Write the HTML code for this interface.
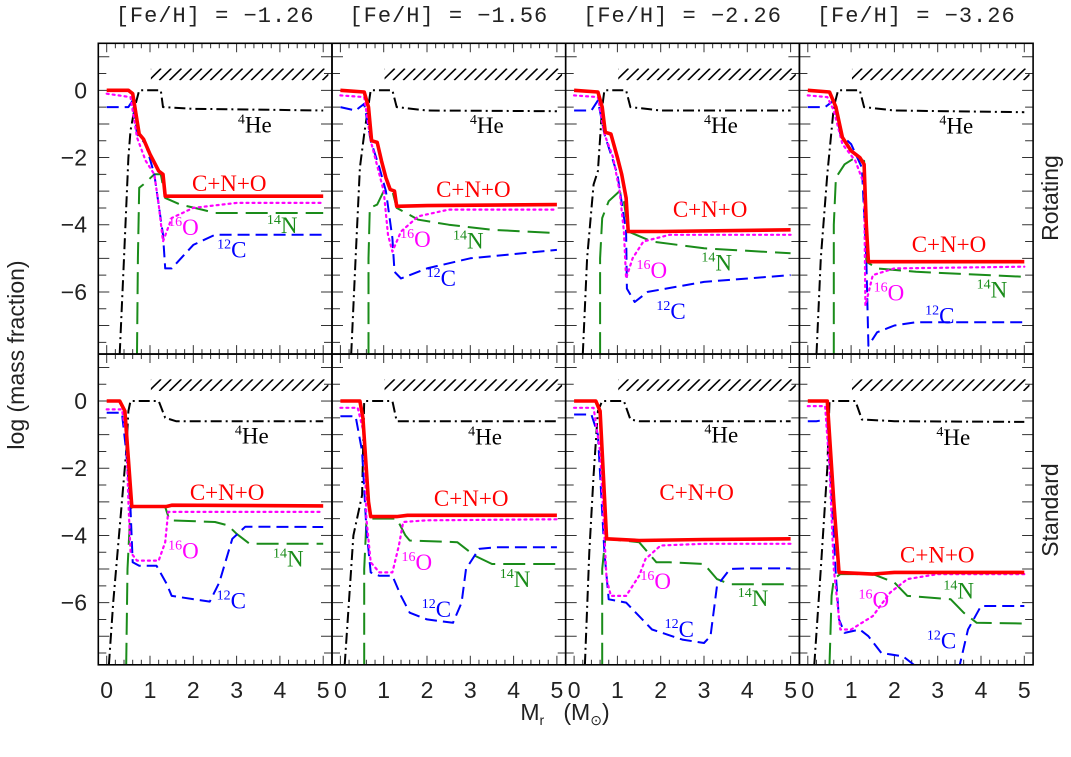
<!DOCTYPE html>
<html><head><meta charset="utf-8"><style>
html,body{margin:0;padding:0;background:#fff;}
svg{display:block;}
text{font-family:"Liberation Serif",serif;}
.ax{font-family:"Liberation Sans",sans-serif;fill:#222;}
.mono{font-family:"Liberation Mono",monospace;fill:#222;}
</style></head><body>
<svg id="chart" width="1071" height="757" viewBox="0 0 1071 757" xmlns="http://www.w3.org/2000/svg">
<g id="g"></g>
</svg>
<script>
const metallicities = ["[Fe/H] = \u22121.26","[Fe/H] = \u22121.56","[Fe/H] = \u22122.26","[Fe/H] = \u22123.26"];
const rowNames = ["Rotating","Standard"];
const xTicks = [0,1,2,3,4,5];
const yTicks = [0,-2,-4,-6];
const yTickLabels = ["0","\u22122","\u22124","\u22126"];

// Rotating row
const rot1_cno=[[0,0],[0.5,0],[0.6,-0.1],[0.75,-1.3],[0.85,-1.45],[1.0,-1.9],[1.2,-2.4],[1.3,-2.5],[1.35,-3.15],[5,-3.15]];
const rot1_o=[[0,-0.1],[0.55,-0.2],[0.7,-1.4],[0.9,-2.1],[1.1,-2.5],[1.2,-3.4],[1.3,-4.5],[1.5,-3.8],[2,-3.5],[3,-3.35],[5,-3.35]];
const rot1_c=[[0,-0.5],[0.5,-0.5],[0.6,-0.3],[0.7,-1.3],[0.9,-1.6],[1.1,-2.5],[1.3,-4.3],[1.35,-5.3],[1.5,-5.3],[2,-4.6],[2.5,-4.3],[5,-4.3]];
const rot1_n=[[0.7,-7.85],[0.72,-5],[0.75,-2.9],[0.85,-2.8],[1.1,-2.5],[1.25,-2.5],[1.35,-3.2],[1.7,-3.4],[2.2,-3.55],[2.5,-3.65],[5,-3.65]];
const rot1_he=[[0.3,-7.85],[0.4,-5],[0.5,-2],[0.55,-1.2],[0.65,-0.5],[0.75,0],[1.25,0],[1.3,-0.5],[2,-0.55],[5,-0.6]];

const rot2_cno=[[0,0],[0.55,-0.05],[0.65,-0.5],[0.72,-1.5],[0.85,-1.55],[0.95,-2.1],[1.05,-2.6],[1.15,-2.95],[1.25,-3.0],[1.3,-3.45],[2,-3.43],[5,-3.4]];
const rot2_o=[[0,-0.15],[0.55,-0.2],[0.7,-1.5],[0.9,-2.5],[1.0,-3.0],[1.1,-4.3],[1.2,-4.8],[1.4,-4.2],[1.8,-3.75],[2.5,-3.55],[5,-3.55]];
const rot2_c=[[0,-0.5],[0.35,-0.6],[0.55,-0.4],[0.7,-1.5],[0.9,-2.3],[1.05,-3.0],[1.2,-4.4],[1.25,-5.4],[1.4,-5.6],[2,-5.3],[3,-5.0],[5,-4.75]];
const rot2_n=[[0.65,-7.85],[0.65,-5],[0.68,-3.5],[0.85,-3.4],[1.0,-3.0],[1.2,-3.0],[1.3,-3.5],[1.8,-3.85],[2.5,-4.0],[3.5,-4.15],[5,-4.25]];
const rot2_he=[[0.25,-7.85],[0.35,-5],[0.45,-2.3],[0.55,-1.3],[0.7,0],[1.2,0],[1.3,-0.5],[2,-0.6],[5,-0.62]];

const rot3_cno=[[0,0],[0.55,-0.05],[0.65,-0.5],[0.72,-1.25],[0.85,-1.3],[1.0,-2.0],[1.1,-2.5],[1.2,-3.2],[1.25,-4.2],[2,-4.2],[5,-4.15]];
const rot3_o=[[0,-0.15],[0.55,-0.2],[0.7,-1.3],[0.9,-2.0],[1.05,-3.0],[1.15,-4.2],[1.2,-5.6],[1.35,-5.0],[1.6,-4.5],[2.2,-4.3],[5,-4.3]];
const rot3_c=[[0,-0.6],[0.4,-0.6],[0.55,-0.3],[0.7,-1.3],[1.0,-2.5],[1.2,-4.2],[1.22,-5.9],[1.4,-6.3],[1.7,-6.0],[3,-5.7],[5,-5.5]];
const rot3_n=[[0.6,-7.85],[0.6,-5],[0.65,-3.8],[0.8,-3.3],[1.05,-3.0],[1.15,-3.3],[1.25,-4.2],[1.8,-4.5],[3,-4.7],[5,-4.85]];
const rot3_he=[[0.2,-7.85],[0.3,-5],[0.45,-2.8],[0.55,-2.4],[0.65,-0.5],[0.7,0],[1.2,0],[1.3,-0.5],[2,-0.6],[5,-0.6]];

const rot4_cno=[[0,0],[0.5,-0.05],[0.65,-0.5],[0.8,-1.4],[1.0,-1.8],[1.2,-2.0],[1.3,-2.2],[1.35,-4],[1.4,-5.1],[2,-5.1],[5,-5.1]];
const rot4_o=[[0,-0.15],[0.45,-0.2],[0.6,-0.6],[0.8,-1.6],[1.1,-2.1],[1.3,-2.8],[1.33,-6.4],[1.5,-5.5],[2,-5.3],[5,-5.25]];
const rot4_c=[[0,-0.5],[0.4,-0.5],[0.6,-0.3],[0.75,-1.3],[1.0,-1.6],[1.25,-2.3],[1.35,-5.0],[1.4,-7.6],[1.6,-7.2],[2,-7.0],[2.5,-6.9],[5,-6.9]];
const rot4_n=[[0.6,-7.85],[0.6,-4],[0.65,-2.6],[0.85,-2.2],[1.1,-2.0],[1.3,-2.1],[1.35,-5.1],[1.6,-5.3],[2.5,-5.4],[5,-5.55]];
const rot4_he=[[0.2,-7.85],[0.3,-5],[0.45,-2.5],[0.6,-0.5],[0.7,0],[1.2,0],[1.3,-0.5],[2,-0.6],[5,-0.65]];

// Standard row
const std1_cno=[[0,0],[0.3,0],[0.42,-0.3],[0.58,-3.14],[1.38,-3.14],[1.5,-3.1],[5,-3.12]];
const std1_o=[[0,-0.25],[0.35,-0.25],[0.45,-1],[0.5,-3],[0.55,-4.5],[0.7,-4.75],[1.2,-4.75],[1.35,-4.2],[1.42,-3.3],[2,-3.3],[5,-3.3]];
const std1_c=[[0,-0.35],[0.35,-0.35],[0.45,-1.5],[0.55,-3.2],[0.6,-4.8],[0.75,-4.9],[1.15,-4.9],[1.38,-5.43],[1.5,-5.8],[2.38,-5.97],[2.6,-5.4],[2.9,-4.1],[3.2,-3.74],[5,-3.75]];
const std1_n=[[0.45,-7.85],[0.48,-5],[0.55,-3.2],[0.6,-3.15],[1.35,-3.15],[1.45,-3.55],[2.5,-3.6],[2.8,-3.7],[3.0,-3.95],[3.3,-4.25],[5,-4.25]];
const std1_he=[[0.05,-7.85],[0.15,-6],[0.35,-3],[0.45,-1.5],[0.5,-0.3],[0.55,0],[1.2,0],[1.35,-0.5],[1.6,-0.6],[5,-0.6]];

const std2_cno=[[0,0],[0.45,0],[0.52,-0.5],[0.65,-3.0],[0.7,-3.44],[1.3,-3.44],[1.55,-3.4],[5,-3.4]];
const std2_o=[[0,-0.2],[0.4,-0.2],[0.55,-1],[0.6,-3.5],[0.7,-4.8],[0.9,-5.1],[1.2,-5.1],[1.35,-4.3],[1.45,-3.6],[2,-3.55],[5,-3.52]];
const std2_c=[[0,-0.45],[0.35,-0.45],[0.5,-1.5],[0.6,-3.8],[0.7,-5.1],[0.9,-5.2],[1.2,-5.2],[1.4,-5.8],[1.6,-6.3],[2.0,-6.5],[2.6,-6.6],[2.8,-6.0],[2.9,-5.0],[3.2,-4.4],[3.6,-4.35],[5,-4.35]];
const std2_n=[[0.55,-7.85],[0.55,-5],[0.6,-3.6],[0.7,-3.5],[1.3,-3.5],[1.5,-4.0],[1.6,-4.15],[2.7,-4.2],[3.1,-4.6],[3.5,-4.85],[5,-4.85]];
const std2_he=[[0.1,-7.85],[0.3,-4],[0.5,-2.8],[0.55,0],[1.2,0],[1.3,-0.6],[2,-0.6],[5,-0.6]];

const std3_cno=[[0,0],[0.5,0],[0.6,-0.3],[0.75,-4.1],[1.5,-4.15],[3,-4.12],[5,-4.1]];
const std3_o=[[0,-0.2],[0.45,-0.2],[0.6,-1.5],[0.7,-4.0],[0.75,-5.3],[0.85,-5.8],[1.2,-5.8],[1.5,-5.2],[1.65,-4.7],[2,-4.3],[3,-4.25],[5,-4.25]];
const std3_c=[[0,-0.4],[0.4,-0.4],[0.55,-1],[0.7,-4.5],[0.8,-5.9],[1.2,-6.0],[1.8,-6.8],[2.5,-7.1],[3.0,-7.2],[3.15,-7.0],[3.3,-5.5],[3.6,-5.0],[4,-4.98],[5,-4.98]];
const std3_n=[[0.65,-7.85],[0.65,-5],[0.72,-4.1],[1.5,-4.2],[1.9,-4.8],[2.2,-4.8],[3.0,-4.85],[3.3,-5.3],[3.6,-5.45],[5,-5.45]];
const std3_he=[[0.25,-7.85],[0.35,-4.5],[0.45,-2.2],[0.55,-0.3],[0.65,0],[1.15,0],[1.3,-0.55],[1.5,-0.6],[5,-0.6]];

const std4_cno=[[0,0],[0.45,0],[0.6,-3],[0.72,-5.1],[1.5,-5.15],[2,-5.1],[5,-5.1]];
const std4_o=[[0,-0.15],[0.4,-0.15],[0.5,-2],[0.6,-5],[0.75,-6.8],[1.0,-6.8],[1.5,-6.4],[1.9,-5.7],[2.3,-5.3],[3,-5.15],[5,-5.15]];
const std4_c=[[0,-0.6],[0.2,-0.6],[0.45,-0.55],[0.65,-5.2],[0.72,-6.5],[0.85,-6.9],[1.2,-6.8],[1.4,-7.0],[1.7,-7.5],[2.2,-7.6],[2.5,-7.9],[3.5,-7.9],[3.7,-6.8],[4.0,-6.1],[5,-6.1]];
const std4_n=[[0.5,-7.85],[0.55,-5.8],[0.6,-5.3],[0.75,-5.15],[1.5,-5.15],[2.0,-5.4],[2.3,-5.8],[3.3,-5.9],[3.6,-6.3],[3.9,-6.6],[5,-6.62]];
const std4_he=[[0.15,-7.85],[0.3,-5],[0.45,-2],[0.5,0],[1.1,0],[1.25,-0.55],[2,-0.6],[5,-0.62]];

// label anchors (data coords): he, cno, o, n, c
const labelPos = [
 [[3.03,-1.25],[1.97,-3.0],[1.42,-4.3],[3.7,-4.25],[2.55,-4.97]],
 [[2.99,-1.27],[2.21,-3.17],[1.38,-4.66],[2.6,-4.71],[1.99,-5.83]],
 [[3.0,-1.27],[2.28,-3.77],[1.44,-5.58],[2.94,-5.36],[1.9,-6.8]],
 [[3.04,-1.29],[2.4,-4.81],[1.52,-6.25],[3.9,-6.17],[2.71,-6.94]],
 [[2.96,-1.26],[1.92,-2.95],[1.42,-4.68],[3.84,-4.93],[2.54,-6.17]],
 [[2.95,-1.29],[2.16,-3.13],[1.41,-5.03],[3.68,-5.53],[1.88,-6.42]],
 [[3.01,-1.24],[1.97,-2.95],[1.53,-5.6],[3.78,-6.1],[2.09,-7.03]],
 [[2.97,-1.31],[2.13,-4.81],[1.17,-6.14],[3.13,-5.87],[2.75,-7.36]]
];

const panels = [
 [rot1_he,rot1_n,rot1_c,rot1_o,rot1_cno],[rot2_he,rot2_n,rot2_c,rot2_o,rot2_cno],
 [rot3_he,rot3_n,rot3_c,rot3_o,rot3_cno],[rot4_he,rot4_n,rot4_c,rot4_o,rot4_cno],
 [std1_he,std1_n,std1_c,std1_o,std1_cno],[std2_he,std2_n,std2_c,std2_o,std2_cno],
 [std3_he,std3_n,std3_c,std3_o,std3_cno],[std4_he,std4_n,std4_c,std4_o,std4_cno]
];

const NS="http://www.w3.org/2000/svg";
const g=document.getElementById('g');
const PL=98.3, PW=233.7, XU=43.3, YU=33.6, XMIN=-0.194, YMAX=1.4, YMIN=-7.85;
const rowTop=[43.3,354];
function sx(col,x){return PL+col*PW+(x-XMIN)*XU;}
function sy(row,y){return rowTop[row]+(YMAX-y)*YU;}
function mk(tag,attrs,parent){const e=document.createElementNS(NS,tag);for(const k in attrs)e.setAttribute(k,attrs[k]);(parent||g).appendChild(e);return e;}

const styles=[
 {stroke:'#000',w:2,dash:'11 4 2 4'},
 {stroke:'#1a8c1a',w:2,dash:'22 8'},
 {stroke:'#0000ff',w:2,dash:'12 6'},
 {stroke:'#ff00ff',w:2.2,dash:'2 4'},
 {stroke:'#ff0000',w:3.6,dash:''}
];
const seriesNames=['he4','n14','c12','o16','cno'];

const defs=mk('defs',{});
for(let p=0;p<8;p++){
  const col=p%4,row=Math.floor(p/4);
  const cp=mk('clipPath',{id:'cp'+p},defs);
  mk('rect',{x:PL+col*PW,y:rowTop[row],width:PW,height:sy(row,YMIN)-rowTop[row]},cp);
}

for(let p=0;p<8;p++){
  const col=p%4,row=Math.floor(p/4);
  const x0=PL+col*PW, y0=rowTop[row], x1=x0+PW, y1=sy(row,YMIN);
  const pg=mk('g',{'clip-path':'url(#cp'+p+')'});
  
  
  for(let t=0;t<=26;t++){
    const xv=Math.round((t*0.2)*10)/10; const X=sx(col,xv); const L=(Math.abs(xv-Math.round(xv))<1e-6)?9:5;
    mk('line',{x1:X,y1:y1,x2:X,y2:y1-L,stroke:'#333','stroke-width':1},pg);
    mk('line',{x1:X,y1:y0,x2:X,y2:y0+L,stroke:'#333','stroke-width':1},pg);
  }
  for(let yv=1;yv>=-7.5;yv-=0.5){
    const Y=sy(row,yv); const L=(Math.abs(yv-Math.round(yv))<1e-6)?11:8;
    mk('line',{x1:x0,y1:Y,x2:x0+L,y2:Y,stroke:'#333','stroke-width':1},pg);
    mk('line',{x1:x1,y1:Y,x2:x1-L,y2:Y,stroke:'#333','stroke-width':1},pg);
  }
  const hx0=sx(col,1.02),hx1=sx(col,5.12),hy0=sy(row,0.65),hy1=sy(row,0.3);
  const hcp=mk('clipPath',{id:'hc'+p},defs);
  mk('rect',{x:hx0,y:hy0,width:hx1-hx0,height:hy1-hy0},hcp);
  const hg=mk('g',{'clip-path':'url(#hc'+p+')'},pg);
  
  
  for(let hx=hx0-12;hx<hx1+12;hx+=10.2){
    mk('line',{x1:hx,y1:hy1,x2:hx+12,y2:hy0,stroke:'#000','stroke-width':1.6},hg);
  }
  panels[p].forEach((ser,i)=>{
    const st=styles[i];
    const d=ser.map((pt,j)=>(j?'L':'M')+sx(col,pt[0]).toFixed(1)+','+sy(row,pt[1]).toFixed(1)).join('');
    const path=mk('path',{d:d,fill:'none',stroke:st.stroke,'stroke-width':st.w,'stroke-dasharray':st.dash,'stroke-linejoin':'round','stroke-linecap':i==3?'round':'butt'},pg);
    
    
  });
  const lp=labelPos[p];
  const lab=[['4','He','#000'],['','C+N+O','#ff0000'],['16','O','#ff00ff'],['14','N','#1a8c1a'],['12','C','#0000ff']];
  const lnames=['label-he4','label-cno','label-o16','label-n14','label-c12'];
  lab.forEach((L,i)=>{
    const t=mk('text',{x:sx(col,lp[i][0]),y:sy(row,lp[i][1]),fill:L[2],'font-size':23});
    
    
    if(L[0]){const s=mk('tspan',{'font-size':14,dy:-9},t);s.textContent=L[0];const s2=mk('tspan',{dy:9},t);s2.textContent=L[1];}
    else t.textContent=L[1];
  });
  const fr=mk('rect',{x:x0,y:y0,width:PW,height:y1-y0,fill:'none',stroke:'#000','stroke-width':1.6});
  
  
  if(row==1){
    xTicks.forEach(v=>{
      const t=mk('text',{x:sx(col,v),y:698,'text-anchor':'middle','font-size':23,class:'ax'});
      
      
      t.textContent=v;
    });
  }
  if(col==0){
    yTicks.forEach((v,i)=>{
      const t=mk('text',{x:87,y:sy(row,v)+8,'text-anchor':'end','font-size':23,class:'ax'});
      
      
      t.textContent=yTickLabels[i];
    });
  }
}
metallicities.forEach((m,i)=>{
  const t=mk('text',{x:PL+i*PW+PW/2,y:22,'text-anchor':'middle','font-size':22,class:'mono','letter-spacing':'1'});
  
  
  t.textContent=m;
});
rowNames.forEach((r,i)=>{
  const cy=i?510:198;
  const t=mk('text',{x:1058,y:cy,'text-anchor':'middle','font-size':23,class:'ax',transform:'rotate(-90 1058 '+cy+')'});
  
  
  t.textContent=r;
});
const yl=mk('text',{x:24,y:355,'text-anchor':'middle','font-size':23,class:'ax',transform:'rotate(-90 24 355)'});


yl.textContent='log (mass fraction)';
const xl=mk('text',{x:565,y:720,'text-anchor':'middle','font-size':23,class:'ax'});


xl.innerHTML='M<tspan font-size="14" dy="5">r</tspan><tspan dy="-5">\u00a0\u00a0\u00a0(M</tspan><tspan font-size="14" dy="5">\u2299</tspan><tspan dy="-5">)</tspan>';
</script>
</body></html>
